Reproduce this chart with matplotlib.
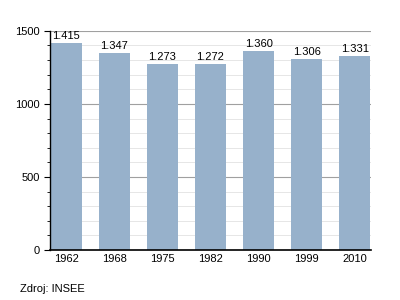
import matplotlib
matplotlib.use('Agg')
import matplotlib.pyplot as plt
from matplotlib.ticker import MultipleLocator

plt.rcParams['font.family'] = ['Liberation Sans', 'DejaVu Sans']

# data
years = ['1962', '1968', '1975', '1982', '1990', '1999', '2010']
population = [1415, 1347, 1273, 1272, 1360, 1306, 1331]
labels = ['1.415', '1.347', '1.273', '1.272', '1.360', '1.306', '1.331']

fig = plt.figure(figsize=(4, 3), dpi=100)
ax = fig.add_axes([0.125, 0.167, 0.8025, 0.73])

xs = range(len(years))
ax.bar(xs, population, width=0.64, color='#97b1cb', zorder=2)

for x, v, t in zip(xs, population, labels):
    ax.text(x, v + 14, t, ha='center', va='bottom', fontsize=8, color='black')

ax.set_xlim(-0.34, 6.34)
ax.set_ylim(0, 1500)
ax.set_xticks(list(xs))
ax.set_xticklabels(years, fontsize=8)
ax.yaxis.set_major_locator(MultipleLocator(500))
ax.yaxis.set_minor_locator(MultipleLocator(100))
ax.tick_params(axis='y', which='major', labelsize=8, length=4, width=0.8, direction='out')
ax.tick_params(axis='y', which='minor', length=2.5, width=0.6, direction='out')
ax.tick_params(axis='x', length=0, pad=3)

ax.grid(axis='y', which='major', color='#a0a0a0', linewidth=0.8, zorder=1)
ax.grid(axis='y', which='minor', color='#e2e2e2', linewidth=0.6, zorder=1)
ax.set_axisbelow(True)

for s in ['top', 'right']:
    ax.spines[s].set_visible(False)
ax.spines['left'].set_linewidth(1.0)
ax.spines['bottom'].set_linewidth(1.2)

fig.text(0.05, 0.037, 'Zdroj: INSEE', fontsize=8, va='center')

fig.savefig('out.png', dpi=100)
